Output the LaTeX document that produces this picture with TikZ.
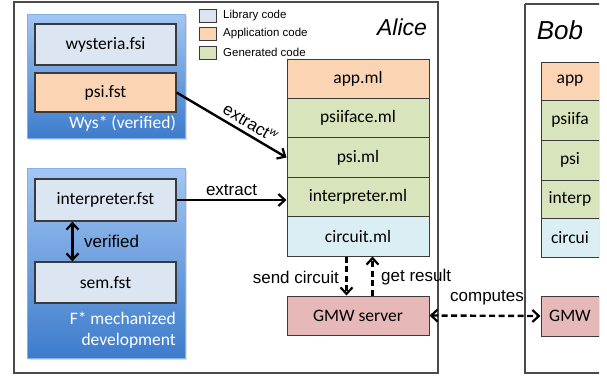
\documentclass[tikz,border=0pt]{standalone}
\usepackage{fontspec}
\setmainfont{Carlito}
\newfontfamily\arial{Liberation Sans}
\usetikzlibrary{arrows.meta,shadows}
\definecolor{libc}{HTML}{DCE6F2}
\definecolor{appc}{HTML}{FBD4B4}
\definecolor{genc}{HTML}{D7E4BC}
\definecolor{circc}{HTML}{DAEEF3}
\definecolor{gmwc}{HTML}{E6B9B8}
\definecolor{bordc}{HTML}{3A3A3A}
\definecolor{frame}{HTML}{4A4A4A}
\definecolor{bluetop}{HTML}{A3C6F4}
\definecolor{bluebot}{HTML}{3D7CCB}
\tikzset{
  filebox/.style={draw=bordc, line width=1.1pt, inner sep=0pt, minimum width=141pt,
    font=\fontsize{17.5}{20}\selectfont},
  stackbox/.style={draw=bordc, line width=1pt, inner sep=0pt, minimum width=142pt,
    minimum height=39.4pt, font=\fontsize{17.5}{20}\selectfont},
  bobbox/.style={draw=bordc, line width=1pt, inner sep=0pt, minimum width=58pt,
    minimum height=39pt, font=\fontsize{17.5}{20}\selectfont},
  container/.style={inner sep=0pt, top color=bluetop, bottom color=bluebot, draw=bluetop!70!bluebot, line width=0.6pt,
    drop shadow={opacity=0.25, shadow xshift=1.5pt, shadow yshift=-1.5pt}},
  party/.style={draw=frame, line width=1.2pt},
  lbl/.style={font=\arial\fontsize{17}{20}\selectfont, inner sep=1pt},
  conttext/.style={text=white, font=\fontsize{17.5}{20.5}\selectfont, align=right, inner sep=0pt},
  legsq/.style={draw=bordc, line width=0.8pt, inner sep=0pt, minimum width=17pt, minimum height=13pt},
  legtxt/.style={font=\arial\fontsize{11.5}{13}\selectfont, inner sep=0pt, anchor=west},
  tip/.style={Straight Barb[length=6.5pt,width=12pt,line width=2.2pt]},
  arr/.style={line width=2.4pt, -{Straight Barb[length=6.5pt,width=12pt,line width=2.2pt]}},
  darr/.style={line width=2.4pt, dash pattern=on 6pt off 3.5pt, -{Straight Barb[length=6.5pt,width=12pt,line width=2.2pt]}},
  party name/.style={font=\arial\itshape\fontsize{23}{26}\selectfont, inner sep=0pt}
}
\begin{document}
\begin{tikzpicture}[x=1pt,y=-1pt]
\useasboundingbox (0,0) rectangle (607,376);
\fill[white] (0,0) rectangle (607,376);
% party frames
\draw[party] (14,2) rectangle (438,373);
\begin{scope}
\clip (0,0) rectangle (599,376);
\draw[party] (525,4) -- (640,4);
\draw[party] (525,4) -- (525,373) -- (640,373);
\node[bobbox, fill=appc, minimum height=38pt] (bapp) at (570,81) {app};
\node[bobbox, fill=genc, minimum height=40pt] (bpsiiface) at (570,120) {psiifa};
\node[bobbox, fill=genc, minimum height=40pt] (bpsi) at (570,160) {psi};
\node[bobbox, fill=genc, minimum height=38pt] (binterp) at (570,199) {interp};
\node[bobbox, fill=circc, minimum height=39pt] (bcirc) at (570,237.5) {circui};
\node[bobbox, fill=gmwc, minimum height=40pt] (bgmw) at (570,316) {GMW};
\end{scope}
\node[party name] (alice) at (402,27) {Alice};
\node[party name, font=\arial\itshape\fontsize{26}{28}\selectfont] (bob) at (560,30) {Bob};
% containers
\node[container, minimum width=158pt, minimum height=124pt] (wysbox) at (106,76) {};
\node[container, minimum width=158pt, minimum height=190pt] (fstarbox) at (106,263) {};
\node[filebox, fill=libc, minimum height=41pt] (wysfsi) at (105.5,44.5) {wysteria.fsi};
\node[filebox, fill=appc, minimum height=39pt] (psifst) at (105.5,92.5) {psi.fst};
\node[conttext, anchor=east] (wyslbl) at (176,124) {Wys* (verified)};
\node[filebox, fill=libc, minimum height=42pt] (interpfst) at (105.5,200) {interpreter.fst};
\node[filebox, fill=libc, minimum height=41pt] (semfst) at (105.5,282.5) {sem.fst};
\node[conttext, anchor=north east] (fstarlbl) at (176,312) {F* mechanized\\development};
% legend
\node[legsq, fill=libc] (leg1) at (207.5,15.5) {};
\node[legsq, fill=appc] (leg2) at (207.5,33.5) {};
\node[legsq, fill=genc] (leg3) at (207.5,52.5) {};
\node[legtxt] (leg1t) at (223,15.5) {Library code};
\node[legtxt] (leg2t) at (223,33.5) {Application code};
\node[legtxt] (leg3t) at (223,52.5) {Generated code};
% Alice stack
\node[stackbox, fill=appc] (appml) at (358,78.7) {app.ml};
\node[stackbox, fill=genc] (psiifaceml) at (358,118.1) {psiiface.ml};
\node[stackbox, fill=genc] (psiml) at (358,157.5) {psi.ml};
\node[stackbox, fill=genc] (interpml) at (358,196.9) {interpreter.ml};
\node[stackbox, fill=circc] (circml) at (358,236.3) {circuit.ml};
\node[stackbox, fill=gmwc, minimum height=39pt] (gmw) at (358,315.5) {GMW server};
% arrows
\draw[arr] (psifst.east) -- node[lbl, sloped, above=3pt, pos=0.62] (extwlbl) {extract$^{\mathit{w}}$} (psiml.west);
\draw[arr] (interpfst.east) -- node[lbl, above=2pt] (extlbl) {extract} (interpfst.east -| interpml.west);
\draw[line width=2.4pt, {Straight Barb[length=6.5pt,width=12pt,line width=2.2pt]}-{Straight Barb[length=6.5pt,width=12pt,line width=2.2pt]}]
  ([xshift=38pt]interpfst.south west) -- ([xshift=38pt]semfst.north west);
\node[lbl, anchor=west] (verlbl) at (83,241) {verified};
\draw[darr] ([xshift=60pt]circml.south west) -- ([xshift=60pt]gmw.north west);
\draw[darr] ([xshift=86pt]gmw.north west) -- ([xshift=86pt]circml.south west);
\node[lbl, anchor=east] (sendlbl) at (340,277) {send circuit};
\node[lbl, anchor=west] (getlbl) at (380,277) {get result};
\draw[darr, {Straight Barb[length=6.5pt,width=12pt,line width=2.2pt]}-{Straight Barb[length=6.5pt,width=12pt,line width=2.2pt]}] (gmw.east) -- (bgmw.west);
\node[lbl] (complbl) at (487,298) {computes};
\end{tikzpicture}
\end{document}
